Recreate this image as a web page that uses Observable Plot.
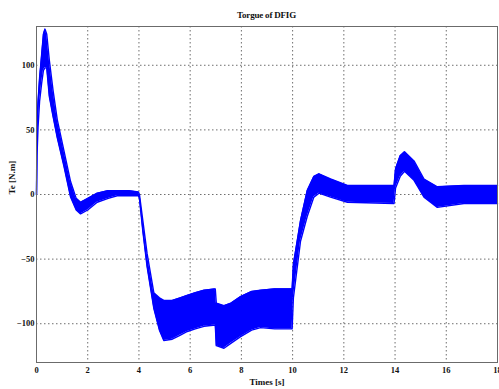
<!DOCTYPE html>
<html>
<head>
<meta charset="utf-8">
<script src="https://cdn.jsdelivr.net/npm/d3@7"></script>
<script src="https://cdn.jsdelivr.net/npm/@observablehq/plot@0.6"></script>
<style>
  html, body { margin: 0; padding: 0; background: #fff; }
  #wrap { width: 499px; height: 389px; overflow: hidden; }
  #title { height: 25px; width: 461px; margin-left: 36px; text-align: center;
           font: bold 9px "Liberation Serif", "Times New Roman", "DejaVu Serif", serif; color: #111;
           line-height: 30px; letter-spacing: -0.2px; }
  svg { display: block; }
</style>
</head>
<body>
<div id="wrap">
  <div id="title">Torgue of DFIG</div>
  <div id="chart"></div>
</div>
<script>
// Envelope of the oscillating torque signal
const times = [0, 0.02, 0.06, 0.12, 0.2, 0.27, 0.33, 0.4, 0.5, 0.65, 0.81, 1.07, 1.33, 1.55, 1.72, 2.0, 2.37, 2.8, 3.15, 3.6, 3.98,
  4.02, 4.15, 4.32, 4.58, 4.8, 4.97, 5.3, 5.6, 5.89, 6.2, 6.54, 6.98, 7.02, 7.32, 7.6, 7.97, 8.4, 8.75, 9.3, 9.98,
  10.03, 10.31, 10.57, 10.83, 11.03, 11.48, 12.14, 13.96, 14.02, 14.2, 14.37, 14.74, 15.13, 15.65, 16.69, 18];
const upperTe = [0, 56, 72, 90, 108, 124, 128, 124, 104, 80, 58, 34, 10, -3, -6, -3, 1, 3, 3, 3, 2,
  0, -20, -46, -76, -80, -82, -82, -80, -78, -76, -74, -73, -84, -86, -84, -79, -75, -74, -73, -73,
  -54, -20, 3, 14, 16, 12, 7, 7, 20, 30, 33, 26, 12, 6, 7, 7];
const lowerTe = [0, 30, 52, 72, 86, 96, 98, 98, 76, 60, 44, 22, -2, -12, -15, -12, -6, -3, -1, -1, -1,
  -3, -28, -56, -88, -105, -113, -112, -109, -106, -104, -102, -101, -117, -119, -115, -110, -105, -103, -104, -104,
  -80, -36, -17, -2, 1, -2, -6, -7, 5, 14, 18, 11, -2, -10, -7, -7];
const xTicks = [0, 2, 4, 6, 8, 10, 12, 14, 16, 18];
const yTicks = [-100, -50, 0, 50, 100];
const xLabel = "Times [s]";
const yLabel = "Te [N.m]";

const data = times.map((t, i) => ({t, hi: upperTe[i], lo: lowerTe[i]}));
const blue = "#0000ff";
const grid = {stroke: "#555", strokeOpacity: 0.85, strokeDasharray: "1.5,2.5", strokeWidth: 1};

const chart = Plot.plot({
  width: 499, height: 364,
  marginTop: 1, marginLeft: 36, marginRight: 2, marginBottom: 27,
  x: {domain: [0, 18]},
  y: {domain: [-130, 130]},
  style: {fontFamily: "'Liberation Serif', 'Times New Roman', 'DejaVu Serif', serif", fontSize: "8.5px", fontWeight: "bold", color: "#111", background: "#fff"},
  marks: [
    Plot.gridX(xTicks, grid),
    Plot.gridY(yTicks, grid),
    Plot.areaY(data, {x: "t", y1: "lo", y2: "hi", fill: blue}),
    Plot.line(data, {x: "t", y: "hi", stroke: blue, strokeWidth: 1.4}),
    Plot.line(data, {x: "t", y: "lo", stroke: blue, strokeWidth: 1.4}),
    Plot.frame({stroke: "#6b6b6b", strokeWidth: 1}),
    Plot.axisX(xTicks, {tickSize: 0, tickPadding: 4, label: null}),
    Plot.axisY(yTicks, {tickSize: 0, tickPadding: 2, label: null}),
    Plot.text([xLabel], {frameAnchor: "bottom", dy: 22, fontSize: 9, fontWeight: "bold", fill: "#111"}),
    Plot.text([yLabel], {frameAnchor: "left", dx: -24, rotate: -90, fontSize: 9, fontWeight: "bold", fill: "#111"})
  ]
});
document.getElementById("chart").appendChild(chart);
</script>
</body>
</html>
